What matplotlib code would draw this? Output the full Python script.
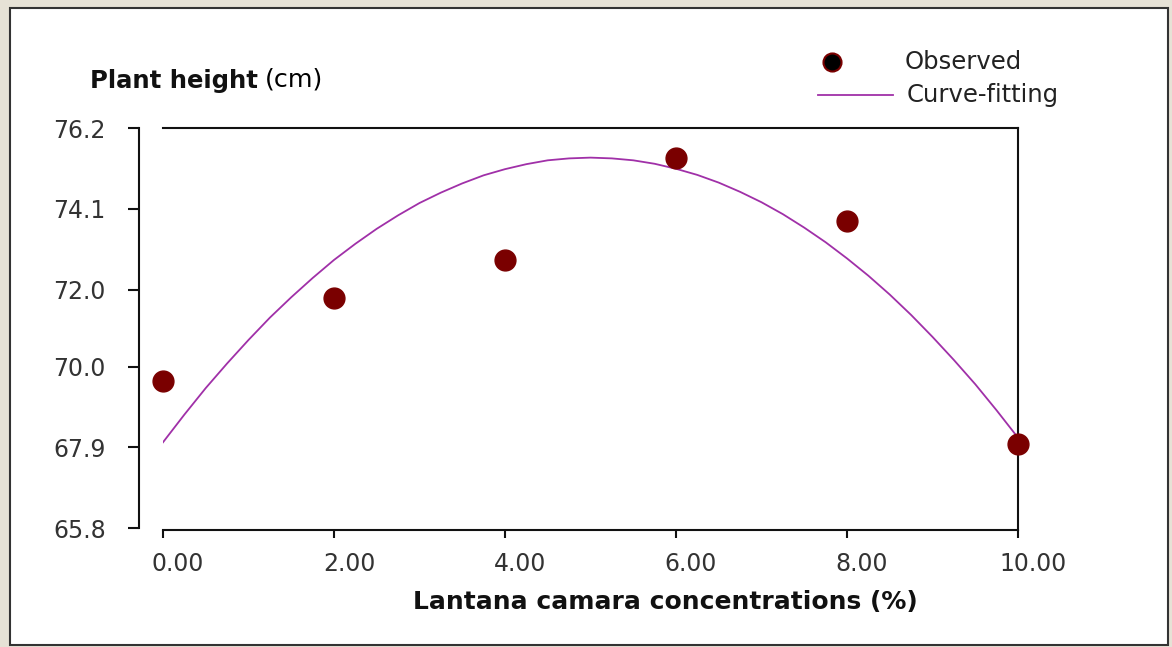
import matplotlib
matplotlib.use("Agg")
import matplotlib.pyplot as plt
from matplotlib.lines import Line2D
from matplotlib.patches import Rectangle
from matplotlib.transforms import ScaledTranslation

# ============================================
# Data
# ============================================
conc = [0, 2, 4, 6, 8, 10]
height_obs = [69.62, 71.78, 72.77, 75.42, 73.78, 67.98]

# fitted curve, read every 0.25 along x
curve_x = [0, 0.25, 0.5, 0.75, 1, 1.25, 1.5, 1.75, 2, 2.25, 2.5, 2.75, 3, 3.25, 3.5, 3.75,
           4, 4.25, 4.5, 4.75, 5, 5.25, 5.5, 5.75, 6, 6.25, 6.5, 6.75, 7, 7.25, 7.5, 7.75,
           8, 8.25, 8.5, 8.75, 9, 9.25, 9.5, 9.75, 10]
curve_y = [68.03, 68.75, 69.44, 70.08, 70.69, 71.27, 71.80, 72.30, 72.77, 73.19, 73.58, 73.93,
           74.25, 74.52, 74.76, 74.97, 75.13, 75.26, 75.36, 75.41, 75.43, 75.41, 75.36, 75.27,
           75.14, 74.98, 74.78, 74.54, 74.27, 73.96, 73.61, 73.23, 72.81, 72.36, 71.87, 71.34,
           70.77, 70.17, 69.54, 68.86, 68.15]

y_ticks = [65.8, 67.9, 70.0, 72.0, 74.1, 76.2]
x_ticks = [0, 2, 4, 6, 8, 10]

W, H = 1172, 647
plt.rcParams['font.family'] = ['DejaVu Sans']

fig = plt.figure(figsize=(W / 100, H / 100), dpi=100)
fig.patch.set_facecolor('white')

# window-like frame round the chart
fig.add_artist(Rectangle((0, 0), 1, 1, transform=fig.transFigure,
                         facecolor='#e6e2d6', edgecolor='none', zorder=-10))
fig.add_artist(Rectangle((10 / W, 2 / H), 1158 / W, 637 / H, transform=fig.transFigure,
                         facecolor='white', edgecolor='#333333', linewidth=1.5, zorder=-9))

ax = fig.add_axes([163 / W, 1 - 530 / H, 855 / W, 402 / H])
ax.set_facecolor('none')

# Curve-fitting line
ax.plot(curve_x, curve_y, color='#a030a8', linewidth=1.3, zorder=3)
# Observed points
ax.plot(conc, height_obs, linestyle='none', marker='o', markersize=15,
        markerfacecolor='#7a0000', markeredgecolor='#7a0000', clip_on=False, zorder=5)

ax.set_xlim(0, 10)
ax.set_ylim(65.75, 76.2)
ax.set_xticks(x_ticks)
ax.set_xticklabels([f"{v:.2f}" for v in x_ticks])
ax.set_yticks(y_ticks)
ax.set_yticklabels([f"{v:.1f}" for v in y_ticks])

for s in ax.spines.values():
    s.set_linewidth(1.5)
    s.set_color('#111111')
ax.spines['left'].set_position(('outward', 17.3))
ax.spines['left'].set_bounds(65.8, 76.2)

ax.tick_params(axis='y', direction='out', length=8, width=1.5, pad=16,
               labelsize=17, labelcolor='#333333', color='#111111')
ax.tick_params(axis='x', direction='out', length=6, width=1.5, pad=10,
               labelsize=17, labelcolor='#333333', color='#111111')

# x tick labels sit a little right of their ticks in the original
shift = ScaledTranslation(15 / 100, 0, fig.dpi_scale_trans)
for lbl in ax.get_xticklabels():
    lbl.set_transform(lbl.get_transform() + shift)

# axis titles
fig.text(90 / W, 1 - 81 / H, "Plant height", fontsize=17.5, fontweight='bold',
         ha='left', va='center', color='#111111')
fig.text(265 / W, 1 - 80 / H, "(cm)", fontsize=18.3, ha='left', va='center', color='black')
fig.text(665 / W, 1 - 602 / H, "Lantana camara concentrations (%)", fontsize=18,
         fontweight='bold', ha='center', va='center', color='#111111')

# legend drawn by hand
fig.add_artist(Line2D([832 / W], [1 - 62 / H], transform=fig.transFigure, marker='o',
                      markersize=13, markerfacecolor='black', markeredgecolor='#7a0000',
                      markeredgewidth=1.5, linestyle='none'))
fig.add_artist(Line2D([818 / W, 893 / W], [1 - 95 / H, 1 - 95 / H], transform=fig.transFigure,
                      color='#a030a8', linewidth=1.3))
fig.text(905 / W, 1 - 62 / H, "Observed", fontsize=17.5, ha='left', va='center', color='#222222')
fig.text(907 / W, 1 - 95 / H, "Curve-fitting", fontsize=17.5, ha='left', va='center', color='#222222')

fig.savefig('out.png', dpi=100)
